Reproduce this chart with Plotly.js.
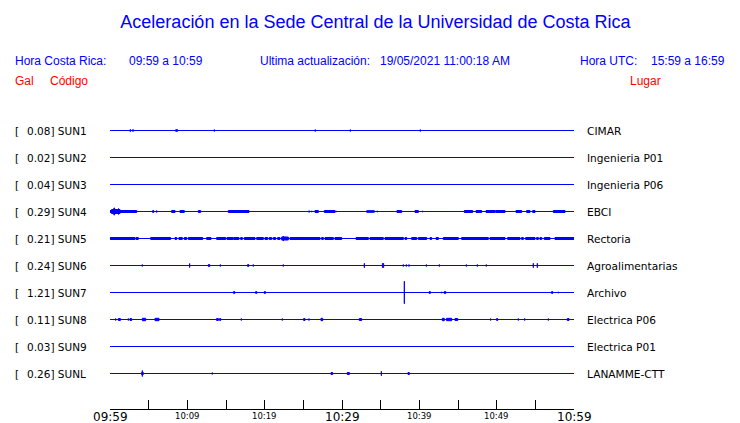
<!DOCTYPE html>
<html><head><meta charset="utf-8">
<script src="https://cdn.plot.ly/plotly-3.0.1.min.js"></script>
<style>html,body{margin:0;padding:0;background:#fff}#chart{width:740px;height:423px}</style>
</head><body><div id="chart"></div>
<script>
// ---------------- DATA ----------------
const stationCodes = ["SUN1","SUN2","SUN3","SUN4","SUN5","SUN6","SUN7","SUN8","SUN9","SUNL"];
const stationPlaces = ["CIMAR","Ingenieria P01","Ingenieria P06","EBCI","Rectoria","Agroalimentarias","Archivo","Electrica P06","Electrica P01","LANAMME-CTT"];
const peakGal = ["0.08","0.02","0.04","0.29","0.21","0.24","1.21","0.11","0.03","0.26"];

// events: [start minute after 09:59, end minute, half deflection]
const sun1Events = [[2.63,2.63,1.7],[2.97,2.97,1.7],[5.65,5.65,0.8],[8.49,8.75,1.3],[13.49,13.49,1.5],[26.55,26.55,1.5],[31.08,31.08,1.5],[40.13,40.13,1.5]];
const sun2Events = [];
const sun3Events = [];
const sun4Events = [[0,3.45,1.5],[0.2,1.3,2.5],[0.5,0.6,4],[1.1,1.1,3.5],[3.88,3.88,1],[5.52,5.65,1.5],[6.03,6.03,1.5],[7.03,7.03,1],[7.97,8.41,1.5],[9.05,9.61,1.5],[9.83,9.83,1],[10.47,10.47,1],[10.65,10.65,1],[11.42,11.72,1.5],[12.84,12.84,0.8],[13.88,13.88,0.8],[15.3,17.97,1.5],[19.31,19.31,0.8],[22.07,22.07,0.8],[24.48,24.48,0.8],[25.65,25.86,1],[26.08,26.08,1.2],[26.51,26.94,1.5],[27.72,29.09,1.5],[29.22,29.22,1.2],[29.66,29.66,0.8],[30.82,30.82,0.8],[31.47,31.47,1],[32.41,32.41,1],[32.63,32.63,1],[33.19,34.18,1.3],[34.57,34.57,1.2],[36.42,36.42,0.8],[37.11,37.72,1.5],[38.88,38.88,1],[39.44,39.87,1.5],[40.43,40.43,1.2],[45.82,46.9,1.5],[47.33,48.06,1.5],[48.41,48.41,1],[48.62,49.78,1.5],[49.87,51.08,1.5],[51.29,51.29,1],[51.64,51.64,1],[52.16,52.16,1],[52.5,53.23,1.5],[53.45,53.45,1],[53.88,54.31,1.5],[54.66,54.96,1.5],[57.33,58.84,1.5],[59.27,59.27,1],[59.91,59.91,1]];
const sun5Events = [[0,3.23,1.5],[3.36,3.66,1.5],[4.01,4.01,0.8],[5.26,7.84,1.5],[8.41,8.62,1.5],[8.92,9.35,1.5],[9.61,9.91,1.5],[10.13,11.98,1.5],[12.5,13.06,1.5],[13.36,13.36,1],[13.79,14.96,1.5],[15.13,15.95,1.5],[16.03,16.68,1.5],[16.9,17.11,1.5],[17.37,18.75,1.5],[18.97,19.83,1.5],[20.04,20.39,1.5],[20.6,20.91,1.5],[21.12,21.42,1.5],[21.68,21.98,1.5],[22.2,23.06,2],[22.41,22.41,3],[23.28,27.16,1.5],[27.37,27.59,1.5],[27.8,28.88,1.5],[29.09,29.96,1.5],[30.39,30.39,1],[30.82,30.82,1],[31.25,31.25,1],[31.81,33.41,1.5],[33.62,35.34,1.5],[35.56,37.93,1.5],[38.15,38.36,1.5],[38.58,38.58,1],[39.01,39.66,1.5],[39.87,40.95,1.5],[41.16,41.16,1],[41.38,41.59,1.5],[42.16,42.46,1.5],[43.1,45.04,1.5],[45.47,48.92,1.5],[49.14,51.08,1.5],[51.42,53.02,1.5],[53.23,53.45,1.5],[53.75,54.96,1.5],[55.17,55.39,1.5],[55.6,55.82,1.5],[56.16,56.9,1.5],[57.11,57.11,1],[57.54,60,1.5]];
const sun6Events = [[4.18,4.18,1.5],[5.99,5.99,1],[9.35,9.35,0.8],[9.61,9.61,1],[10.3,10.3,2.5],[12.72,12.89,1.5],[14.27,14.27,1.5],[17.8,17.93,1.5],[18.53,18.53,1.5],[20.99,20.99,1],[22.41,22.41,1.5],[28.53,28.53,1],[32.89,32.89,2.7],[35.22,35.39,2.5],[37.93,37.93,1.5],[38.32,38.32,1.5],[38.66,38.66,1.5],[38.92,38.92,1],[40.91,40.91,1.5],[42.59,42.59,1.5],[46.08,46.08,1.5],[47.5,47.5,1.5],[48.66,48.66,1.5],[54.74,54.74,2.7],[55.26,55.26,2.7],[58.36,58.36,1]];
const sun7Events = [[2.76,2.76,1],[11.21,11.21,1],[15.99,16.12,1.5],[18.84,18.97,1.5],[19.96,20.09,1.5],[27.46,27.46,0.8],[36.25,36.25,0.8],[38.06,38.06,11.7],[41.29,41.42,1.5],[42.89,42.89,1.2],[43.23,43.41,1.5],[57.11,57.24,1.5],[57.97,57.97,1.2]];
const sun8Events = [[0.73,0.73,1.5],[1.08,1.34,1.5],[2.37,2.37,1.5],[2.59,2.8,1.5],[4.18,4.61,1.7],[4.96,4.96,1],[5.82,6.34,1.7],[6.77,6.77,1],[7.54,7.54,1],[12.72,12.72,1],[13.79,14.01,1.5],[14.18,14.31,1.5],[16.98,16.98,1.5],[18.28,18.28,1],[18.58,18.58,1],[19.18,19.18,1],[19.57,19.57,1],[22.28,22.28,1.5],[25.04,25.22,1.5],[25.73,25.73,1.5],[26.42,26.42,1],[27.28,27.5,1.7],[32.24,32.54,1.5],[33.41,33.41,1],[36.51,36.51,1],[42.33,42.33,1],[42.97,43.23,1.7],[43.53,44.18,1.7],[44.61,44.96,1.5],[48.62,48.62,1],[49.22,49.22,1.5],[50,50.13,1.5],[52.8,52.8,1.5],[53.62,53.62,1.5],[56.34,56.34,1],[56.68,56.68,1.5],[59.14,59.35,1.5]];
const sun9Events = [];
const sunlEvents = [[3.88,3.88,0.8],[4.09,4.31,1.5],[4.18,4.18,3.5],[13.23,13.23,1.5],[28.58,28.79,1.5],[30.69,30.95,1.5],[35.09,35.09,2.7],[38.53,38.71,1.5],[46.42,46.42,1]];

const tickMinutes = [0,5,10,15,20,25,30,35,40,45,50,55,60];
const tickLabelMinutes = [0,10,20,30,40,50,60];
const tickLabels = ["09:59","10:09","10:19","10:29","10:39","10:49","10:59"];
const majorTickLabels = ["09:59","10:29","10:59"];

const titleText = "Aceleración en la Sede Central de la Universidad de Costa Rica";
const headerCR = ["Hora Costa Rica:", "09:59 a 10:59"];
const headerUpd = ["Ultima actualización:", "19/05/2021 11:00:18 AM"];
const headerUTC = ["Hora UTC:", "15:59 a 16:59"];
const colHeaders = ["Gal", "Código", "Lugar"];

// ---------------- BUILD ----------------
const allEvents = [sun1Events,sun2Events,sun3Events,sun4Events,sun5Events,sun6Events,sun7Events,sun8Events,sun9Events,sunlEvents];
const W = 740, H = 423, ML = 110, MR = 166, MT = 103, MB = 14;
const PW = W - ML - MR, PH = H - MT - MB;
const ROW = 27;
const PX = p => (p - ML) / PW;
const PY = p => (H - MB - p) / PH;
const BLUE = "#0000ff", RED = "#ff0000";
const SANS = "Liberation Sans, Arial, sans-serif";
const DJ = "DejaVu Sans, sans-serif";

const traces = [];
const annotations = [];
stationCodes.forEach((code, i) => {
  const base = -ROW * i;
  traces.push({type: "scatter", mode: "lines", x: [0, 60], y: [base, base],
    line: {color: BLUE, width: 1}, hoverinfo: "skip", showlegend: false});
  const xs = [], ys = [];
  allEvents[i].forEach(([t0, t1, a]) => {
    const h = Math.max(a - 0.5, 0);
    xs.push(t0, t1, t1, t0, t0, null);
    ys.push(base - h, base - h, base + h, base + h, base - h, null);
  });
  if (xs.length) traces.push({type: "scatter", mode: "lines", x: xs, y: ys,
    fill: "toself", fillcolor: BLUE, line: {color: BLUE, width: 1},
    hoverinfo: "skip", showlegend: false});
  annotations.push({xref: "paper", yref: "y", x: PX(15), y: base, xanchor: "left", yanchor: "middle",
    text: "[", showarrow: false, font: {family: DJ, size: 10.5, color: "#000"}, borderpad: 0, borderwidth: 0});
  annotations.push({xref: "paper", yref: "y", x: PX(27), y: base, xanchor: "left", yanchor: "middle",
    text: peakGal[i] + "] " + code, showarrow: false, font: {family: DJ, size: 10.5, color: "#000"}, borderpad: 0, borderwidth: 0});
  annotations.push({xref: "paper", yref: "y", x: PX(586.5), y: base, xanchor: "left", yanchor: "middle",
    text: stationPlaces[i], showarrow: false, font: {family: DJ, size: 10.6, color: "#000"}, borderpad: 0, borderwidth: 0});
});

tickLabelMinutes.forEach((m, k) => {
  const major = majorTickLabels.includes(tickLabels[k]);
  annotations.push({xref: "x", yref: "paper", x: m, y: PY(major ? 416.5 : 415.5), xanchor: "center", yanchor: "middle",
    text: tickLabels[k], showarrow: false, font: {family: DJ, size: major ? 12 : 8.5, color: "#000"},
    borderpad: 0, borderwidth: 0});
});

function txt(x, y, t, color, size) {
  annotations.push({xref: "paper", yref: "paper", x: PX(x), y: PY(y), xanchor: "left", yanchor: "middle",
    text: t, showarrow: false, font: {family: SANS, size: size, color: color}, borderpad: 0, borderwidth: 0});
}
txt(15, 61, headerCR[0], BLUE, 12);
txt(129, 61, headerCR[1], BLUE, 12);
txt(260, 61, headerUpd[0], BLUE, 12);
txt(380, 61, headerUpd[1], BLUE, 12);
txt(580, 61, headerUTC[0], BLUE, 12);
txt(651, 61, headerUTC[1], BLUE, 12);
txt(15, 81, colHeaders[0], RED, 12);
txt(50, 81, colHeaders[1], RED, 12);
txt(630, 81, colHeaders[2], RED, 12);

const layout = {
  width: W, height: H,
  margin: {l: ML, r: MR, t: MT, b: MB, pad: 0},
  paper_bgcolor: "#fff", plot_bgcolor: "#fff",
  title: {text: titleText, x: 375.5 / W, xref: "container", xanchor: "center", y: 1 - 22 / H, yref: "container", yanchor: "middle",
    font: {family: SANS, size: 18, color: BLUE}},
  xaxis: {range: [0, 60], tickvals: tickMinutes, showticklabels: false, ticks: "inside", ticklen: 9,
    tickcolor: "#000", tickwidth: 1, showline: true, linecolor: "#000", linewidth: 1,
    showgrid: false, zeroline: false, fixedrange: true},
  yaxis: {range: [-ROW * 9 - 35.5, ROW + 0.5], visible: false, showgrid: false, zeroline: false, fixedrange: true},
  annotations: annotations,
  showlegend: false
};
Plotly.newPlot("chart", traces, layout, {displayModeBar: false, staticPlot: true});
</script>
</body></html>
